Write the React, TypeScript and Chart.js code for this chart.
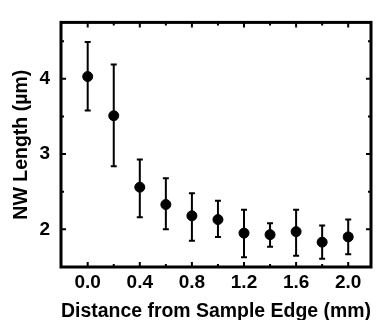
import { useEffect, useRef } from "react";
import { Chart, registerables } from "chart.js";
Chart.register(...registerables);

const distances = [0.0, 0.2, 0.4, 0.6, 0.8, 1.0, 1.2, 1.4, 1.6, 1.8, 2.0];
const lengths = [4.03, 3.51, 2.56, 2.33, 2.18, 2.13, 1.95, 1.93, 1.97, 1.83, 1.9];
const errUpper = [4.49, 4.19, 2.93, 2.68, 2.48, 2.38, 2.26, 2.08, 2.26, 2.05, 2.13];
const errLower = [3.58, 2.84, 2.16, 2.0, 1.85, 1.9, 1.63, 1.77, 1.65, 1.61, 1.67];

const xMajorTicks = [0.0, 0.4, 0.8, 1.2, 1.6, 2.0];
const xMinorTicks = [0.2, 0.6, 1.0, 1.4, 1.8];
const yMajorTicks = [2, 3, 4];
const yMinorTicks = [2.5, 3.5, 4.5];

const xTitle = "Distance from Sample Edge (mm)";
const yTitle = "NW Length (\u00b5m)";

const FONT = "'Liberation Sans', Arial, Helvetica, sans-serif";

const errorBarPlugin = {
  id: "errorBars",
  beforeDatasetsDraw(chart: any) {
    const ctx = chart.ctx;
    const xs = chart.scales.x;
    const ys = chart.scales.y;
    ctx.save();
    ctx.strokeStyle = "#000";
    ctx.lineWidth = 2;
    const cap = 3;
    distances.forEach((d, i) => {
      const px = xs.getPixelForValue(d);
      const top = ys.getPixelForValue(errUpper[i]);
      const bot = ys.getPixelForValue(errLower[i]);
      ctx.beginPath();
      ctx.moveTo(px, top);
      ctx.lineTo(px, bot);
      ctx.moveTo(px - cap, top);
      ctx.lineTo(px + cap, top);
      ctx.moveTo(px - cap, bot);
      ctx.lineTo(px + cap, bot);
      ctx.stroke();
    });
    ctx.restore();
  },
};

const framePlugin = {
  id: "frame",
  afterDraw(chart: any) {
    const ctx = chart.ctx;
    const { left, right, top, bottom } = chart.chartArea;
    const xs = chart.scales.x;
    const ys = chart.scales.y;
    ctx.save();
    ctx.strokeStyle = "#000";
    ctx.lineWidth = 3;
    ctx.strokeRect(left, top, right - left, bottom - top);
    ctx.lineWidth = 2;
    const drawX = (vals: number[], len: number) => {
      vals.forEach((v) => {
        const px = xs.getPixelForValue(v);
        ctx.beginPath();
        ctx.moveTo(px, bottom);
        ctx.lineTo(px, bottom - len);
        ctx.moveTo(px, top);
        ctx.lineTo(px, top + len);
        ctx.stroke();
      });
    };
    const drawY = (vals: number[], len: number) => {
      vals.forEach((v) => {
        const py = ys.getPixelForValue(v);
        ctx.beginPath();
        ctx.moveTo(left, py);
        ctx.lineTo(left + len, py);
        ctx.moveTo(right, py);
        ctx.lineTo(right - len, py);
        ctx.stroke();
      });
    };
    drawX(xMajorTicks, 5);
    drawX(xMinorTicks, 3);
    drawY(yMajorTicks, 5);
    drawY(yMinorTicks, 3);
    ctx.restore();
  },
};

export default function App() {
  const ref = useRef<HTMLCanvasElement | null>(null);
  useEffect(() => {
    document.body.style.margin = "0";
    const canvas = ref.current;
    if (!canvas) return;
    const chart = new Chart(canvas, {
      type: "scatter",
      data: {
        datasets: [
          {
            data: distances.map((d, i) => ({ x: d, y: lengths[i] })),
            backgroundColor: "#000",
            borderColor: "#000",
            pointRadius: 5,
            pointHoverRadius: 5,
            showLine: false,
          },
        ],
      },
      options: {
        animation: false,
        responsive: false,
        devicePixelRatio: 1,
        layout: { padding: { top: 13, right: 3, left: 0, bottom: 0 } },
        plugins: { legend: { display: false }, tooltip: { enabled: false } },
        scales: {
          x: {
            type: "linear",
            min: -0.205,
            max: 2.175,
            afterFit(scale: any) {
              scale.height = 53;
            },
            afterBuildTicks(scale: any) {
              scale.ticks = xMajorTicks.map((v) => ({ value: v }));
            },
            grid: { display: false, drawTicks: false },
            border: { display: false },
            ticks: {
              color: "#000",
              padding: 4,
              maxRotation: 0,
              autoSkip: false,
              font: { family: FONT, size: 19, weight: "bold" },
              callback: (v: any) => Number(v).toFixed(1),
            },
            title: {
              display: true,
              text: xTitle,
              color: "#000",
              padding: { top: 0, bottom: 0 },
              font: { family: FONT, size: 19.5, weight: "bold", lineHeight: 0.9 },
            },
          },
          y: {
            type: "linear",
            min: 1.5,
            max: 4.75,
            afterFit(scale: any) {
              scale.width = 61;
            },
            afterBuildTicks(scale: any) {
              scale.ticks = yMajorTicks.map((v) => ({ value: v }));
            },
            grid: { display: false, drawTicks: false },
            border: { display: false },
            ticks: {
              color: "#000",
              padding: 11,
              autoSkip: false,
              font: { family: FONT, size: 19, weight: "bold" },
              callback: (v: any) => String(v),
            },
            title: {
              display: true,
              text: yTitle,
              color: "#000",
              padding: { top: 10, bottom: 0 },
              font: { family: FONT, size: 19.5, weight: "bold", lineHeight: 1.2 },
            },
          },
        },
      },
      plugins: [errorBarPlugin, framePlugin],
    } as any);
    return () => chart.destroy();
  }, []);
  return <canvas ref={ref} width={377} height={320} style={{ display: "block" }} />;
}
